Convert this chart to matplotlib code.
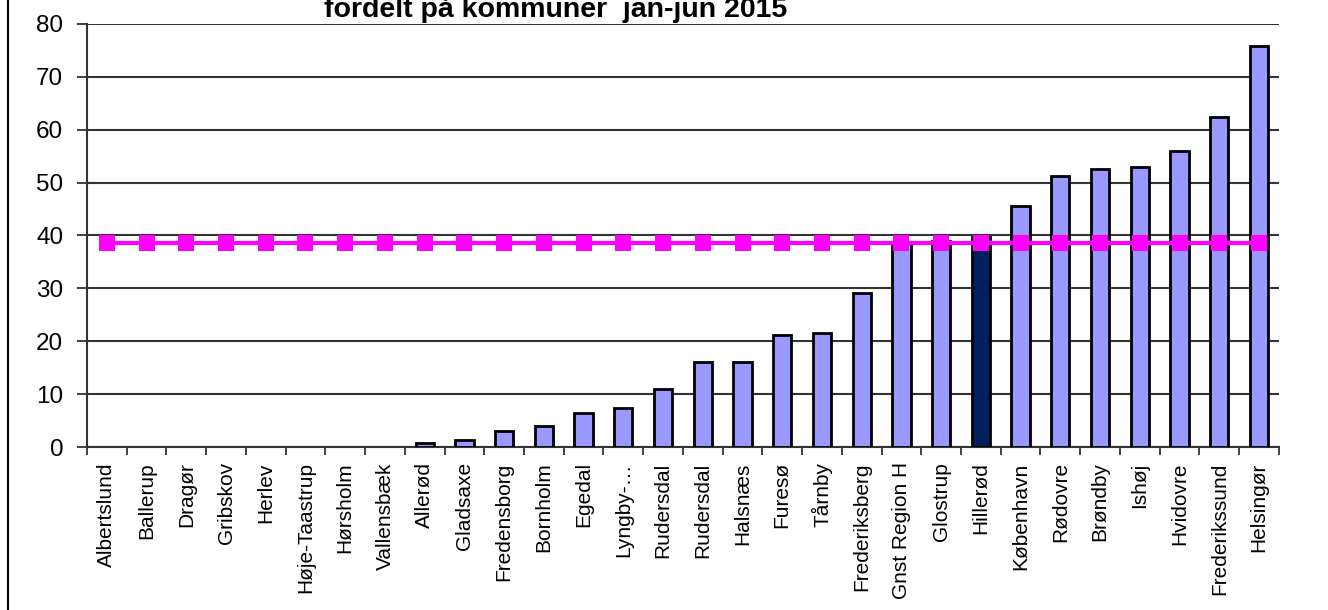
import numpy as np
import matplotlib
matplotlib.use("Agg")
import matplotlib.pyplot as plt
from matplotlib.lines import Line2D

plt.rcParams["font.family"] = ["Liberation Sans", "DejaVu Sans"]

# kommuner, sorted by value
kommuner = ["Albertslund", "Ballerup", "Dragør", "Gribskov", "Herlev",
            "Høje-Taastrup", "Hørsholm", "Vallensbæk", "Allerød", "Gladsaxe",
            "Fredensborg", "Bornholm", "Egedal", "Lyngby-…", "Rudersdal",
            "Rudersdal", "Halsnæs", "Furesø", "Tårnby", "Frederiksberg",
            "Gnst Region H", "Glostrup", "Hillerød", "København", "Rødovre",
            "Brøndby", "Ishøj", "Hvidovre", "Frederikssund", "Helsingør"]
values = [0, 0, 0, 0, 0, 0, 0, 0, 0.8, 1.3,
          3.0, 3.9, 6.4, 7.4, 11.0, 16.1, 16.1, 21.1, 21.6, 29.1,
          38.6, 39.0, 39.8, 45.5, 51.3, 52.5, 53.0, 56.0, 62.4, 75.8]
gennemsnit = [38.6] * len(kommuner)
highlight = "Hillerød"

fig = plt.figure(figsize=(13.28, 6.10), dpi=100)
ax = fig.add_axes([0.0655, 0.2672, 0.8975, 0.6935])

x = np.arange(len(kommuner))
colors = ["#002060" if k == highlight else "#9999FF" for k in kommuner]
edges = [2 if v > 0 else 0 for v in values]
ax.bar(x, values, width=0.46, color=colors, edgecolor="black", linewidth=edges, zorder=3)
ax.plot(x, gennemsnit, color="#FF00FF", linewidth=3, marker="s", markersize=11.5,
        markeredgewidth=0, zorder=4)

ax.set_xlim(-0.5, len(kommuner) - 0.5)
ax.set_ylim(0, 80)
ax.set_yticks(range(0, 81, 10))
ax.yaxis.grid(True, color="#333333", linewidth=1.5, zorder=0)
ax.set_axisbelow(True)

ax.set_xticks(x)
ax.set_xticklabels(kommuner, rotation=90, fontsize=15)
ax.set_xticks(np.arange(-0.5, len(kommuner)), minor=True)
ax.tick_params(axis="x", which="major", length=0, pad=11)
ax.tick_params(axis="x", which="minor", length=6, width=1.3, color="#333333", direction="out")
ax.tick_params(axis="y", length=7, width=1.3, color="#333333", pad=10, labelsize=17.5)

for side in ["top", "right"]:
    ax.spines[side].set_visible(False)
for side in ["left", "bottom"]:
    ax.spines[side].set_color("#333333")
    ax.spines[side].set_linewidth(1.5)

fig.text(556 / 1328, 1 - 17 / 610, "fordelt på kommuner  jan-jun 2015", ha="center",
         va="baseline", fontsize=20.5, fontweight="bold")

fig.add_artist(Line2D([8 / 1328, 8 / 1328], [0, 1], transform=fig.transFigure,
                      color="black", linewidth=1.5))

fig.savefig("out.png", dpi=100)
